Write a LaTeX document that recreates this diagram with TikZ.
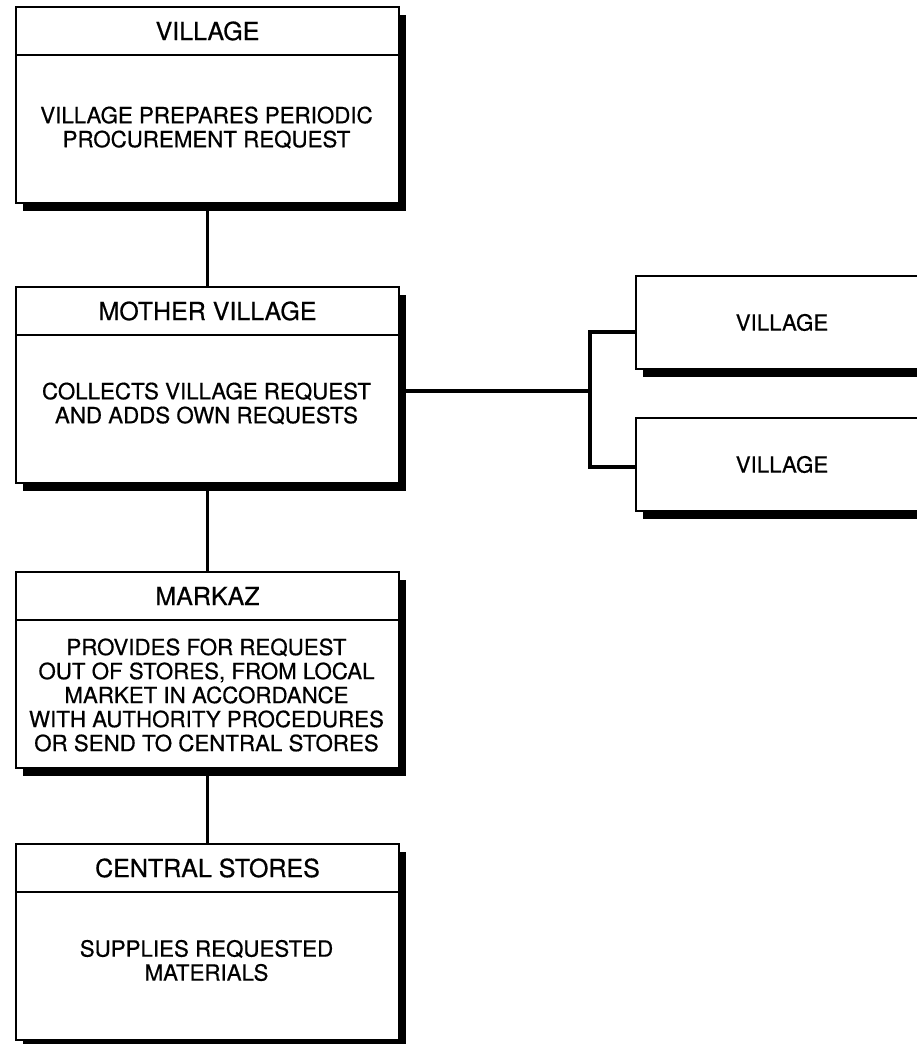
\documentclass[tikz,border=0pt]{standalone}
\usepackage{fontspec}
\setmainfont{TeX Gyre Heros}[FakeBold=0.6]
\usetikzlibrary{shadows}
\tikzset{
  shadowed/.style={drop shadow={shadow xshift=7pt, shadow yshift=-8pt, fill=black, opacity=1}},
  box/.style={draw, line width=2pt, fill=white, inner sep=0pt, minimum width=383pt, minimum height=196pt, anchor=north west, shadowed},
  rbox/.style={draw, line width=2pt, fill=white, inner sep=0pt, minimum width=292pt, minimum height=93pt, anchor=north west, shadowed},
  divider/.style={line width=1.6pt},
  title/.style={inner sep=0pt, font=\fontsize{25}{28}\selectfont},
  body/.style={inner sep=0pt, align=center, font=\fontsize{22.3}{24}\selectfont},
  conn/.style={line width=3.4pt}
}
\begin{document}
\begin{tikzpicture}[x=1pt,y=-1pt]
\useasboundingbox (0,0) rectangle (917,1044);
\clip (0,0) rectangle (917,1044);
% boxes
\node[box] (v1) at (15,6) {};
\node[box] (mv) at (15,286) {};
\node[box] (mk) at (15,571) {};
\node[box] (cs) at (15,843) {};
\node[rbox] (r1) at (635,275) {};
\node[rbox] (r2) at (635,417) {};
% dividers
\foreach \b in {v1,mv,mk,cs}
  \draw[divider] ([yshift=-49pt]\b.north west) -- ([yshift=-49pt]\b.north east);
% titles
\node[title] (t1) at ([yshift=-25pt]v1.north) {VILLAGE};
\node[title] (t2) at ([yshift=-25pt]mv.north) {MOTHER VILLAGE};
\node[title] (t3) at ([yshift=-25pt]mk.north) {MARKAZ};
\node[title] (t4) at ([yshift=-25pt]cs.north) {CENTRAL STORES};
% bodies
\node[body] (b1) at (206.5,127.5) {VILLAGE PREPARES PERIODIC\\PROCUREMENT REQUEST};
\node[body] (b2) at (206.5,403.5) {COLLECTS VILLAGE REQUEST\\AND ADDS OWN REQUESTS};
\node[body] (b3) at (206.5,695) {PROVIDES FOR REQUEST\\OUT OF STORES, FROM LOCAL\\MARKET IN ACCORDANCE\\WITH AUTHORITY PROCEDURES\\OR SEND TO CENTRAL STORES};
\node[body] (b4) at (206.5,960.5) {SUPPLIES REQUESTED\\MATERIALS};
\node[body] (l1) at (r1.center) {VILLAGE};
\node[body] (l2) at (r2.center) {VILLAGE};
% connectors
\draw[conn] (v1.south) -- (mv.north);
\draw[conn] (mv.south) -- (mk.north);
\draw[conn] (mk.south) -- (cs.north);
\coordinate (j) at (590,391);
\coordinate (bt) at (590,332);
\coordinate (bb) at (590,467);
\draw[conn] (mv.east |- j) -- (j);
\draw[conn] (r1.west |- bt) -- (bt) -- (bb) -- (r2.west |- bb);
\end{tikzpicture}
\end{document}
